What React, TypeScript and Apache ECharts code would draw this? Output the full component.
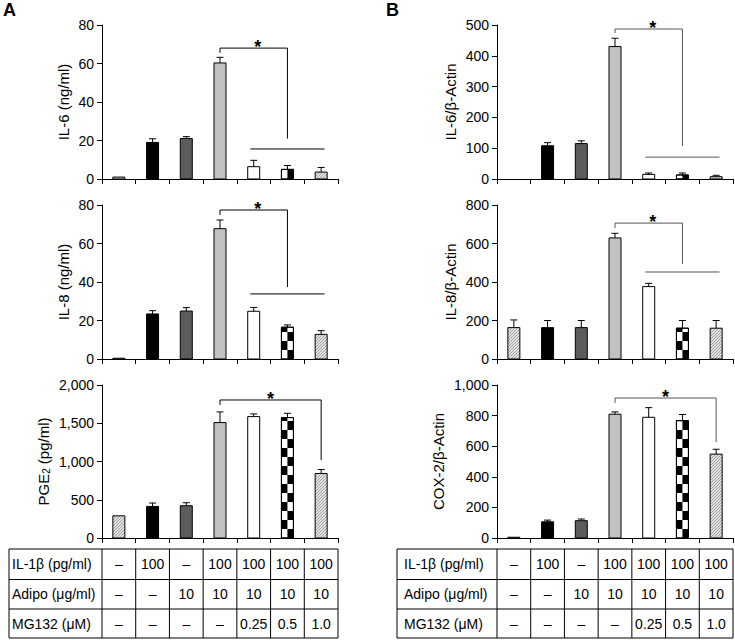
import React, { useEffect, useRef } from 'react';
import * as echarts from 'echarts';

const categories = ['1', '2', '3', '4', '5', '6', '7'];
const barStyles = ['hatch', 'black', 'dark', 'light', 'white', 'checker', 'hatch'];

// Panel A
const il6NgValues = [1, 19, 21, 60.3, 6.4, 5, 3.6];
const il6NgErrors = [0, 1.9, 1, 2.9, 3.3, 2, 2.4];
const il6NgBracket = [3, 5, 68, 65.5, 21];
const il6NgLine = [3.9, 6.1, 15.6];

const il8NgValues = [0.4, 23.4, 24.9, 67.7, 24.8, 16.5, 12.8];
const il8NgErrors = [0, 1.7, 1.8, 4.5, 2, 1.2, 1.9];
const il8NgBracket = [3, 5, 77.4, 74.8, 37.4];
const il8NgLine = [3.9, 6.1, 33.8];

const pge2Values = [290, 413, 422, 1509, 1587, 1574, 843];
const pge2Errors = [0, 44, 39, 139, 35, 56, 53];
const pge2Bracket = [3, 6, 1804, 1739, 1020];

// Panel B
const il6ActValues = [0, 108, 115, 430, 15, 13, 7.6];
const il6ActErrors = [0, 10, 9, 27, 4.5, 6.5, 4.4];
const il6ActBracket = [3, 5, 487, 474, 107];
const il6ActLine = [3.9, 6.1, 71];

const il8ActValues = [163, 163, 163, 629, 376, 160, 160];
const il8ActErrors = [40, 37, 37, 24, 17, 40, 40];
const il8ActBracket = [3, 5, 706, 680, 494];
const il8ActLine = [3.9, 6.1, 452];

const coxValues = [5, 106, 113, 809, 789, 767, 548];
const coxErrors = [0, 11, 11, 15, 63, 40, 32];
const coxBracket = [3, 6, 915, 882, 627];

// Table
const tableRowLabels = ['IL-1β (pg/ml)', 'Adipo (μg/ml)', 'MG132 (μM)'];
const il1bRow = ['–', '100', '–', '100', '100', '100', '100'];
const adipoRow = ['–', '–', '10', '10', '10', '10', '10'];
const mg132Row = ['–', '–', '–', '–', '0.25', '0.5', '1.0'];
const tableRows = [il1bRow, adipoRow, mg132Row];

const FONT = '"Liberation Sans", Arial, Helvetica, sans-serif';

function makeHatch() {
  const c = document.createElement('canvas');
  c.width = 3;
  c.height = 3;
  const ctx = c.getContext('2d');
  if (ctx) {
    ctx.fillStyle = '#e2e2e2';
    ctx.fillRect(0, 0, 3, 3);
    ctx.fillStyle = '#a0a0a0';
    for (let i = 0; i < 3; i++) ctx.fillRect(i, 2 - i, 1, 1);
  }
  return c;
}

function fx(api: any, x: number, y: number) {
  const i = Math.round(x);
  const p = api.coord([i, y]);
  const bw = api.size([1, 0])[0];
  return [p[0] + (x - i) * bw, p[1]];
}

export default function App() {
  const ref = useRef<HTMLDivElement>(null);
  useEffect(() => {
    if (!ref.current) return;
    const chart = echarts.init(ref.current, undefined, { renderer: 'svg' });
    const hatch = makeHatch();

    const colAW = 236 / 7;
    const panels = [
      { grid: { left: 102, top: 25, width: 236, height: 154 }, max: 80, interval: 20, name: 'IL-6 (ng/ml)', gap: 31, values: il6NgValues, errors: il6NgErrors, bracket: il6NgBracket, line: il6NgLine, lc: '#000' },
      { grid: { left: 497, top: 25, width: 236, height: 154 }, max: 500, interval: 100, name: 'IL-6/β-Actin', gap: 39, values: il6ActValues, errors: il6ActErrors, bracket: il6ActBracket, line: il6ActLine, lc: '#555' },
      { grid: { left: 102, top: 205, width: 236, height: 154 }, max: 80, interval: 20, name: 'IL-8 (ng/ml)', gap: 31, values: il8NgValues, errors: il8NgErrors, bracket: il8NgBracket, line: il8NgLine, lc: '#000' },
      { grid: { left: 497, top: 205, width: 236, height: 154 }, max: 800, interval: 200, name: 'IL-8/β-Actin', gap: 39, values: il8ActValues, errors: il8ActErrors, bracket: il8ActBracket, line: il8ActLine, lc: '#555' },
      { grid: { left: 102, top: 385, width: 236, height: 153 }, max: 2000, interval: 500, name: '{n|PGE}{s|2}{n| (pg/ml)}', gap: 51, values: pge2Values, errors: pge2Errors, bracket: pge2Bracket, line: null, lc: '#000' },
      { grid: { left: 497, top: 385, width: 236, height: 153 }, max: 1000, interval: 200, name: 'COX-2/β-Actin', gap: 51, values: coxValues, errors: coxErrors, bracket: coxBracket, line: null, lc: '#555' },
    ];

    const fillFor = (s: string) => {
      if (s === 'black') return '#000';
      if (s === 'dark') return '#5c5c5c';
      if (s === 'light') return '#c2c2c2';
      if (s === 'hatch') return { image: hatch, repeat: 'repeat' } as any;
      return '#fff';
    };

    const series: any[] = [];
    panels.forEach((p, gi) => {
      series.push({
        type: 'custom',
        xAxisIndex: gi,
        yAxisIndex: gi,
        data: p.values.map((v, i) => [i, v, p.errors[i]]),
        encode: { x: 0, y: 1 },
        renderItem: (params: any, api: any) => {
          const i = params.dataIndex;
          const v = api.value(1);
          const err = api.value(2);
          const base = api.coord([i, 0]);
          const top = api.coord([i, v]);
          const bw = 12;
          const x0 = base[0] - bw / 2;
          const h = base[1] - top[1];
          const st = barStyles[i];
          const children: any[] = [];
          if (v > 0) {
            children.push({ type: 'rect', shape: { x: x0, y: top[1], width: bw, height: h }, style: { fill: fillFor(st), stroke: '#000', lineWidth: 1 } });
            if (st === 'checker') {
              const rowH = 9;
              for (let k = 0; k * rowH < h; k++) {
                const yb = base[1] - k * rowH;
                const hh = Math.min(rowH, h - k * rowH);
                const left = k % 2 === 1;
                children.push({ type: 'rect', shape: { x: left ? x0 : x0 + bw / 2, y: yb - hh, width: bw / 2, height: hh }, style: { fill: '#000' } });
              }
              children.push({ type: 'rect', shape: { x: x0, y: top[1], width: bw, height: h }, style: { fill: 'none', stroke: '#000', lineWidth: 1 } });
            }
          }
          if (err > 0) {
            const et = api.coord([i, v + err]);
            children.push({ type: 'line', shape: { x1: base[0], y1: top[1], x2: base[0], y2: et[1] }, style: { stroke: '#000', lineWidth: 1 } });
            children.push({ type: 'line', shape: { x1: base[0] - 3.5, y1: et[1], x2: base[0] + 3.5, y2: et[1] }, style: { stroke: '#000', lineWidth: 1 } });
          }
          return { type: 'group', children };
        },
      });
      series.push({
        type: 'custom',
        xAxisIndex: gi,
        yAxisIndex: gi,
        data: [[p.bracket[0], p.bracket[2]]],
        encode: { x: 0, y: 1 },
        silent: true,
        renderItem: (params: any, api: any) => {
          const b = p.bracket;
          const a1 = fx(api, b[0], b[3]);
          const a2 = fx(api, b[0], b[2]);
          const a3 = fx(api, b[1], b[2]);
          const a4 = fx(api, b[1], b[4]);
          const children: any[] = [
            { type: 'polyline', shape: { points: [a1, a2, a3, a4] }, style: { stroke: p.lc, lineWidth: 1, fill: 'none' } },
          ];
          const mid = (b[0] + b[1]) / 2 + (b[1] - b[0] === 2 ? 0.12 : 0);
          const sp = fx(api, mid, b[2]);
          children.push({ type: 'text', x: sp[0], y: sp[1] - 1, style: { text: '*', fontSize: 18, fontWeight: 'bold', fontFamily: FONT, fill: '#000', align: 'center', verticalAlign: 'middle' } });
          if (p.line) {
            const l1 = fx(api, p.line[0], p.line[2]);
            const l2 = fx(api, p.line[1], p.line[2]);
            children.push({ type: 'line', shape: { x1: l1[0], y1: l1[1], x2: l2[0], y2: l2[1] }, style: { stroke: p.lc, lineWidth: 1 } });
          }
          return { type: 'group', children };
        },
      });
    });

    // Table graphics
    const graphic: any[] = [
      { type: 'text', left: 3, top: 1, style: { text: 'A', fontSize: 18, fontWeight: 'bold', fontFamily: FONT, fill: '#000' } },
      { type: 'text', left: 386, top: 1, style: { text: 'B', fontSize: 18, fontWeight: 'bold', fontFamily: FONT, fill: '#000' } },
    ];
    const rowYs = [549, 579.5, 609, 638];
    const tables = [
      { left: 9, labelX: 12, colStart: 102 },
      { left: 397, labelX: 404, colStart: 497 },
    ];
    tables.forEach((t) => {
      const right = t.colStart + 236;
      rowYs.forEach((y) => {
        graphic.push({ type: 'line', shape: { x1: t.left, y1: y, x2: right, y2: y }, style: { stroke: '#000', lineWidth: 1 } });
      });
      const vx = [t.left, t.colStart];
      for (let k = 1; k <= 7; k++) vx.push(t.colStart + k * colAW);
      vx.forEach((x) => {
        graphic.push({ type: 'line', shape: { x1: x, y1: rowYs[0], x2: x, y2: rowYs[3] }, style: { stroke: '#000', lineWidth: 1 } });
      });
      tableRows.forEach((row, r) => {
        const cy = (rowYs[r] + rowYs[r + 1]) / 2;
        graphic.push({ type: 'text', x: t.labelX, y: cy, style: { text: tableRowLabels[r], fontSize: 14, fontFamily: FONT, fill: '#000', align: 'left', verticalAlign: 'middle' } });
        row.forEach((cell, c) => {
          graphic.push({ type: 'text', x: t.colStart + (c + 0.5) * colAW, y: cy, style: { text: cell, fontSize: 14, fontFamily: FONT, fill: '#000', align: 'center', verticalAlign: 'middle' } });
        });
      });
    });

    chart.setOption({
      animation: false,
      grid: panels.map((p) => ({ ...p.grid, containLabel: false })),
      xAxis: panels.map((p, gi) => ({
        type: 'category',
        gridIndex: gi,
        data: categories,
        boundaryGap: true,
        axisLine: { show: true, lineStyle: { color: '#000', width: 1 } },
        axisTick: { show: true, length: 5, lineStyle: { color: '#000' } },
        axisLabel: { show: false },
        splitLine: { show: false },
      })),
      yAxis: panels.map((p, gi) => ({
        type: 'value',
        gridIndex: gi,
        min: 0,
        max: p.max,
        interval: p.interval,
        name: p.name,
        nameLocation: 'middle',
        nameGap: p.gap,
        nameTextStyle: {
          fontSize: 15,
          fontFamily: FONT,
          color: '#000',
          rich: {
            n: { fontSize: 15, fontFamily: FONT, color: '#000' },
            s: { fontSize: 10, fontFamily: FONT, color: '#000', verticalAlign: 'bottom', padding: [0, 0, 0, 0] },
          },
        },
        axisLine: { show: true, lineStyle: { color: '#000', width: 1 } },
        axisTick: { show: true, length: 5, lineStyle: { color: '#000' } },
        axisLabel: { fontSize: 14, fontFamily: FONT, color: '#000', margin: 8, formatter: (v: number) => v.toLocaleString('en-US') },
        splitLine: { show: false },
      })),
      series,
      graphic,
    });
    return () => chart.dispose();
  }, []);
  return <div ref={ref} style={{ position: 'fixed', left: 0, top: 0, width: 735, height: 640, background: '#fff' }} />;
}
